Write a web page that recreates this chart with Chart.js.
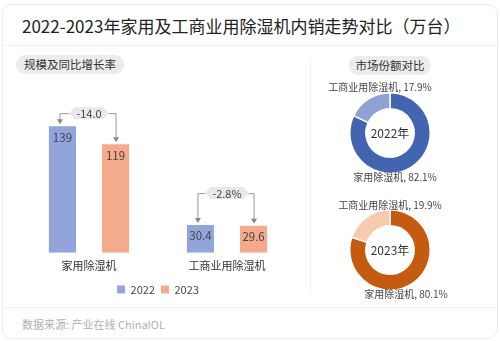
<!DOCTYPE html>
<html>
<head>
<meta charset="utf-8">
<script src="https://cdn.jsdelivr.net/npm/chart.js@4"></script>
<style>
  body { margin: 0; background: #fff; font-family: "Noto Sans CJK SC", "Noto Sans", sans-serif; }
  .card { position: absolute; left: 2px; top: 4px; width: 494px; height: 333px; border: 1px solid #ececec; border-radius: 10px; }
  .title { position: absolute; left: 22px; top: 14px; font-size: 17px; color: #222; white-space: nowrap; line-height: 24px; }
  .hline { position: absolute; left: 3px; width: 494px; height: 1px; background: #f0f0f0; }
  .vline { position: absolute; left: 310px; top: 58px; width: 1px; height: 235px; background: #f0f0f0; }
  .pill { position: absolute; height: 19px; line-height: 19px; font-size: 11.5px; color: #333; background: #ececec; border-radius: 9px; text-align: center; }
  .box { position: absolute; }
  .foot { position: absolute; left: 22px; top: 316px; font-size: 11px; color: #b0b0b0; }
</style>
</head>
<body>
<div class="card"></div>
<div class="title">2022-2023年家用及工商业用除湿机内销走势对比（万台）</div>
<div class="hline" style="top:45px"></div>
<div class="hline" style="top:307px"></div>
<div class="vline"></div>
<div class="pill" style="left:16px;top:55px;width:108px">规模及同比增长率</div>
<div class="pill" style="left:349px;top:56px;width:82px">市场份额对比</div>
<div class="box" style="left:14px;top:80px;width:290px;height:225px"><canvas id="bars"></canvas></div>
<div class="box" style="left:310px;top:78px;width:160px;height:110px"><canvas id="pie22"></canvas></div>
<div class="box" style="left:310px;top:195px;width:160px;height:110px"><canvas id="pie23"></canvas></div>
<div class="foot">数据来源: 产业在线 ChinaIOL</div>
<script>
const categories = ["家用除湿机", "工商业用除湿机"];
const years = ["2022", "2023"];
const sales2022 = [139, 30.4];
const sales2023 = [119, 29.6];
const growthLabels = ["-14.0", "-2.8%"];
const shareNames = ["家用除湿机", "工商业用除湿机"];
const share2022 = [82.1, 17.9];
const share2023 = [80.1, 19.9];

const FONT = '"Noto Sans CJK SC", "Noto Sans", sans-serif';
Chart.defaults.font.family = FONT;
Chart.defaults.animation = false;

// value labels inside the top of each bar + growth brackets
const barExtras = {
  id: "barExtras",
  afterDatasetsDraw(chart, args, opts) {
    const ctx = chart.ctx;
    const m0 = chart.getDatasetMeta(0), m1 = chart.getDatasetMeta(1);
    ctx.save();
    ctx.font = "11.5px " + FONT;
    ctx.fillStyle = "#444";
    ctx.textAlign = "center";
    ctx.textBaseline = "middle";
    chart.data.datasets.forEach((ds, di) => {
      chart.getDatasetMeta(di).data.forEach((bar, i) => {
        ctx.fillText(String(ds.data[i]), bar.x, bar.y + 11);
      });
    });
    categories.forEach((c, i) => {
      const a = m0.data[i], b = m1.data[i];
      const py = Math.min(a.y, b.y) - opts.offsets[i];
      const cx = (a.x + b.x) / 2;
      ctx.font = "11px " + FONT;
      const w = ctx.measureText(growthLabels[i]).width + 14;
      const h = 12;
      ctx.strokeStyle = "#999";
      ctx.lineWidth = 1;
      ctx.beginPath();
      ctx.moveTo(cx - w / 2, py + 0.5); ctx.lineTo(a.x - 2.5, py + 0.5); ctx.lineTo(a.x - 2.5, a.y - 5);
      ctx.moveTo(cx + w / 2, py + 0.5); ctx.lineTo(b.x + 0.5, py + 0.5); ctx.lineTo(b.x + 0.5, b.y - 5);
      ctx.stroke();
      ctx.fillStyle = "#888";
      [[a.x - 2.5, a.y - 2], [b.x + 0.5, b.y - 2]].forEach(([x, y]) => {
        ctx.beginPath();
        ctx.moveTo(x - 3, y - 5); ctx.lineTo(x + 3, y - 5); ctx.lineTo(x, y); ctx.closePath();
        ctx.fill();
      });
      ctx.fillStyle = "#e8e8e8";
      ctx.beginPath();
      ctx.moveTo(cx - w / 2, py);
      ctx.lineTo(cx - w / 2 + 5, py - h / 2);
      ctx.lineTo(cx + w / 2 - 5, py - h / 2);
      ctx.lineTo(cx + w / 2, py);
      ctx.lineTo(cx + w / 2 - 5, py + h / 2);
      ctx.lineTo(cx - w / 2 + 5, py + h / 2);
      ctx.closePath();
      ctx.fill();
      ctx.fillStyle = "#444";
      ctx.fillText(growthLabels[i], cx, py + 0.5);
    });
    ctx.restore();
  }
};

new Chart(document.getElementById("bars"), {
  type: "bar",
  data: {
    labels: categories,
    datasets: [
      { label: years[0], data: sales2022, backgroundColor: "#91a4dc" },
      { label: years[1], data: sales2023, backgroundColor: "#f5aa8b" }
    ]
  },
  options: {
    responsive: true,
    maintainAspectRatio: false,
    categoryPercentage: 0.77,
    barPercentage: 0.51,
    layout: { padding: { top: 27, left: 6, right: 8, bottom: 0 } },
    plugins: {
      legend: {
        position: "bottom",
        labels: { boxWidth: 8, boxHeight: 8, padding: 6, color: "#444", font: { size: 11 } }
      },
      tooltip: { enabled: false },
      barExtras: { offsets: [13, 32] }
    },
    scales: {
      x: {
        grid: { display: false, drawTicks: false },
        border: { display: false },
        ticks: { color: "#333", font: { size: 11 }, padding: 6 }
      },
      y: { display: false, min: 0, max: 160 }
    }
  },
  plugins: [barExtras]
});

const donutText = {
  id: "donutText",
  afterDraw(chart, args, opts) {
    const ctx = chart.ctx;
    const arc = chart.getDatasetMeta(0).data[0];
    const cx = arc.x, cy = arc.y, r = arc.outerRadius;
    const vals = chart.data.datasets[0].data;
    ctx.save();
    ctx.textAlign = "center";
    ctx.textBaseline = "middle";
    ctx.fillStyle = "#333";
    ctx.font = "12px " + FONT;
    ctx.fillText(opts.center, cx, cy);
    ctx.font = "10px " + FONT;
    ctx.fillStyle = "#444";
    ctx.fillText(shareNames[1] + ", " + vals[1].toFixed(1) + "%", cx + opts.top[0], cy - r + opts.top[1]);
    ctx.fillText(shareNames[0] + ", " + vals[0].toFixed(1) + "%", cx + opts.bottom[0], cy + r + opts.bottom[1]);
    ctx.restore();
  }
};

function donut(id, values, colors, center, top, bottom) {
  new Chart(document.getElementById(id), {
    type: "doughnut",
    data: {
      labels: shareNames,
      datasets: [{ data: values, backgroundColor: colors, borderColor: "#fff", borderWidth: 1.5 }]
    },
    options: {
      responsive: true,
      maintainAspectRatio: false,
      cutout: "60%",
      layout: { padding: { top: 14, bottom: 14, left: 39, right: 39 } },
      plugins: {
        legend: { display: false },
        tooltip: { enabled: false },
        donutText: { center: center, top: top, bottom: bottom }
      }
    },
    plugins: [donutText]
  });
}

donut("pie22", share2022, ["#4365b1", "#8ea2d8"], "2022年", [-10, -6], [5, 4]);
donut("pie23", share2023, ["#c55a11", "#f8cbad"], "2023年", [0, -5], [16, 4]);
</script>
</body>
</html>
